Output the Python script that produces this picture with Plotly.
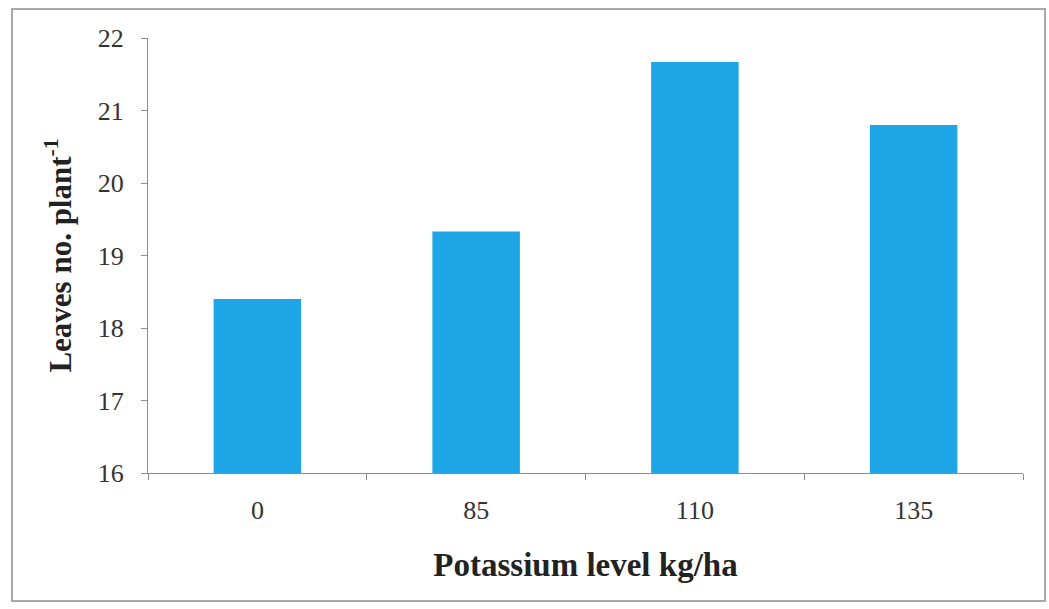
import plotly.graph_objects as go

categories = ["0", "85", "110", "135"]
leaves_per_plant = [18.4, 19.33, 21.67, 20.8]
y_ticks = [16, 17, 18, 19, 20, 21, 22]

serif = "Liberation Serif"

fig = go.Figure(go.Bar(
    x=categories,
    y=leaves_per_plant,
    marker=dict(color="#1EA5E6", line=dict(width=0)),
))

fig.update_layout(
    width=1049, height=609,
    margin=dict(l=148, r=26, t=38, b=136),
    paper_bgcolor="white", plot_bgcolor="white",
    bargap=0.6,
    showlegend=False,
    font=dict(family=serif, color="#333333"),
    xaxis=dict(
        type="category",
        showline=True, linecolor="#8c8c8c", linewidth=1,
        ticks="outside", tickson="boundaries", ticklen=6, tickcolor="#8c8c8c",
        tickfont=dict(family=serif, size=26, color="#333333"),
        ticklabelstandoff=14,
        showgrid=False,
        title=dict(text="<b>Potassium level kg/ha</b>",
                   font=dict(family=serif, size=33, color="#222222"),
                   standoff=28),
    ),
    yaxis=dict(
        range=[16, 22],
        tickvals=y_ticks,
        showline=True, linecolor="#8c8c8c", linewidth=1,
        ticks="outside", ticklen=6, tickcolor="#8c8c8c",
        tickfont=dict(family=serif, size=26, color="#333333"),
        ticklabelstandoff=12,
        showgrid=False, zeroline=False,
        title=dict(text="<b>Leaves no. plant<sup>-1</sup></b>",
                   font=dict(family=serif, size=31, color="#222222"),
                   standoff=16),
    ),
)

# outer chart border
fig.add_shape(type="rect", xref="paper", yref="paper",
              x0=(12 - 148) / 875, x1=(1045 - 148) / 875,
              y0=(473 - 601) / 435, y1=(473 - 9) / 435,
              line=dict(color="#a8a8a8", width=2), layer="below")

fig.write_html("out.html")
